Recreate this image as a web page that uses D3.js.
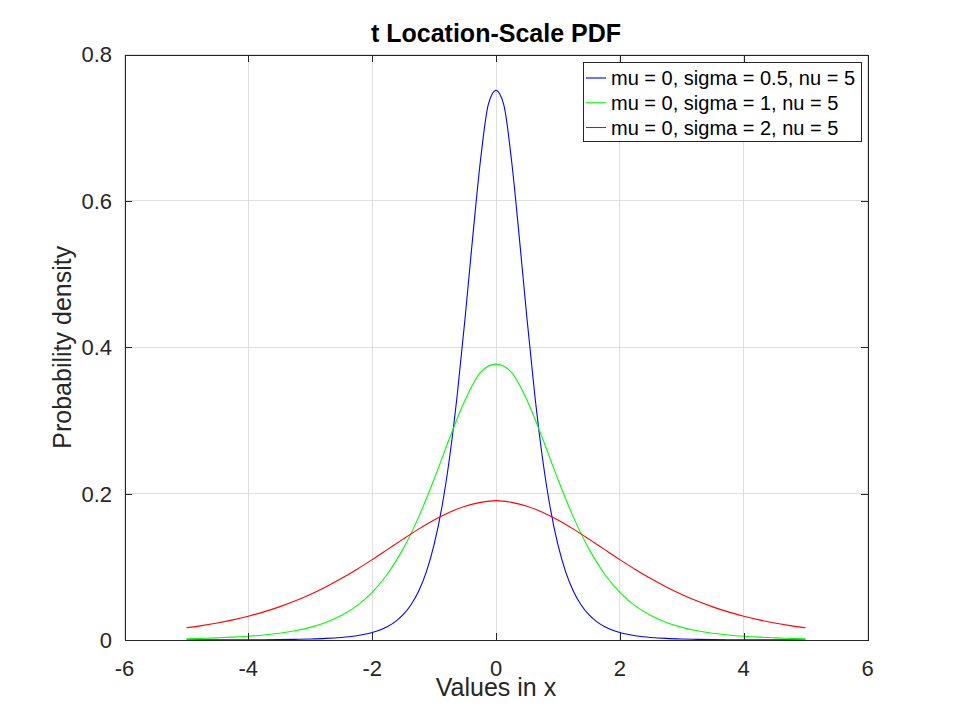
<!DOCTYPE html>
<html>
<head>
<meta charset="utf-8">
<script src="https://cdn.jsdelivr.net/npm/d3@7"></script>
<style>
  html, body { margin: 0; padding: 0; background: #ffffff; }
  svg { display: block; font-family: "Liberation Sans", Arial, Helvetica, sans-serif; }
</style>
</head>
<body>
<svg id="chart" width="960" height="720"></svg>
<script>
// ---- data ----
const xTicks = [-6, -4, -2, 0, 2, 4, 6];
const xTickLabels = ["-6", "-4", "-2", "0", "2", "4", "6"];
const yTicks = [0, 0.2, 0.4, 0.6, 0.8];
const yTickLabels = ["0", "0.2", "0.4", "0.6", "0.8"];

const seriesNames = ["mu = 0, sigma = 0.5, nu = 5", "mu = 0, sigma = 1, nu = 5", "mu = 0, sigma = 2, nu = 5"];
const seriesColors = ["#0000ff", "#00ff00", "#ff0000"];

// x positions for sigma = 0.5 (finer near the centre)
const xNarrow = [-5, -4.75, -4.5, -4.25, -4, -3.75, -3.5, -3.25, -3, -2.75, -2.5,
  -2.375, -2.25, -2.125, -2, -1.875, -1.75, -1.625, -1.5, -1.375, -1.25, -1.125, -1,
  -0.875, -0.75, -0.625, -0.5, -0.375, -0.25, -0.125, 0,
  0.125, 0.25, 0.375, 0.5, 0.625, 0.75, 0.875, 1, 1.125, 1.25, 1.375, 1.5, 1.625,
  1.75, 1.875, 2, 2.125, 2.25, 2.375,
  2.5, 2.75, 3, 3.25, 3.5, 3.75, 4, 4.25, 4.5, 4.75, 5];
const ySigma05 = [0.00008, 0.00011, 0.00015, 0.00021, 0.00029, 0.00041, 0.00060, 0.00090, 0.00138, 0.00217, 0.00352,
  0.00453, 0.00590, 0.00774, 0.01025, 0.01370, 0.01849, 0.02518, 0.03459, 0.04787, 0.06665, 0.09314, 0.13018,
  0.18108, 0.24903, 0.33579, 0.43936, 0.55140, 0.65584, 0.73144, 0.751,
  0.73144, 0.65584, 0.55140, 0.43936, 0.33579, 0.24903, 0.18108, 0.13018, 0.09314, 0.06665, 0.04787, 0.03459, 0.02518,
  0.01849, 0.01370, 0.01025, 0.00774, 0.00590, 0.00453,
  0.00352, 0.00217, 0.00138, 0.00090, 0.00060, 0.00041, 0.00029, 0.00021, 0.00015, 0.00011, 0.00008];

// x positions for sigma = 1 and sigma = 2
const xWide = [-5, -4.75, -4.5, -4.25, -4, -3.75, -3.5, -3.25, -3, -2.75, -2.5, -2.25, -2, -1.75, -1.5,
  -1.25, -1, -0.75, -0.5, -0.25, 0, 0.25, 0.5, 0.75, 1, 1.25, 1.5, 1.75, 2, 2.25, 2.5, 2.75, 3,
  3.25, 3.5, 3.75, 4, 4.25, 4.5, 4.75, 5];
const ySigma1 = [0.00176, 0.00227, 0.00295, 0.00387, 0.00512, 0.00685, 0.00924, 0.01259, 0.01729, 0.02393, 0.03333,
  0.04657, 0.06509, 0.09054, 0.12452, 0.16789, 0.21968, 0.27570, 0.32792, 0.36572, 0.377,
  0.36572, 0.32792, 0.27570, 0.21968, 0.16789, 0.12452, 0.09054, 0.06509, 0.04657, 0.03333,
  0.02393, 0.01729, 0.01259, 0.00924, 0.00685, 0.00512, 0.00387, 0.00295, 0.00227, 0.00176];
const ySigma2 = [0.01666, 0.01969, 0.02329, 0.02754, 0.03255, 0.03842, 0.04527, 0.05319, 0.06226, 0.07252, 0.08395,
  0.09645, 0.10984, 0.12379, 0.13785, 0.15146, 0.16396, 0.17465, 0.18286, 0.18804, 0.1905,
  0.18804, 0.18286, 0.17465, 0.16396, 0.15146, 0.13785, 0.12379, 0.10984, 0.09645, 0.08395,
  0.07252, 0.06226, 0.05319, 0.04527, 0.03842, 0.03255, 0.02754, 0.02329, 0.01969, 0.01666];

const series = [
  { name: seriesNames[0], color: seriesColors[0], xs: xNarrow, ys: ySigma05 },
  { name: seriesNames[1], color: seriesColors[1], xs: xWide, ys: ySigma1 },
  { name: seriesNames[2], color: seriesColors[2], xs: xWide, ys: ySigma2 }
];

// ---- layout ----
const pLeft = 124.5, pRight = 867.5, pTop = 54.5, pBottom = 640;
const axisColor = "#262626";
const gridColor = "#dedede";
const tickLen = 7;

const svg = d3.select("#chart");
const x = d3.scaleLinear().domain([-6, 6]).range([pLeft, pRight]);
const y = d3.scaleLinear().domain([0, 0.8]).range([pBottom, pTop]);

// grid
const grid = svg.append("g").attr("shape-rendering", "crispEdges");
grid.selectAll(".gx").data(xTicks).enter().append("line")
  .attr("x1", d => x(d)).attr("x2", d => x(d)).attr("y1", pTop).attr("y2", pBottom)
  .attr("stroke", gridColor).attr("stroke-width", 1);
grid.selectAll(".gy").data(yTicks).enter().append("line")
  .attr("x1", pLeft).attr("x2", pRight).attr("y1", d => y(d)).attr("y2", d => y(d))
  .attr("stroke", gridColor).attr("stroke-width", 1);

// curves
const line = d3.line().x(d => x(d[0])).y(d => y(d[1])).curve(d3.curveMonotoneX);
const plot = svg.append("g");
series.forEach(s => {
  plot.append("path")
    .datum(s.xs.map((v, i) => [v, s.ys[i]]))
    .attr("d", line)
    .attr("fill", "none")
    .attr("stroke", s.color)
    .attr("stroke-width", 1.1);
});

// axes (box with inward ticks, ticks mirrored)
const axisG = svg.append("g").attr("shape-rendering", "crispEdges");
const xAxisB = d3.axisBottom(x).tickValues(xTicks).tickSizeInner(-tickLen).tickSizeOuter(0).tickFormat("");
const xAxisT = d3.axisTop(x).tickValues(xTicks).tickSizeInner(-tickLen).tickSizeOuter(0).tickFormat("");
const yAxisL = d3.axisLeft(y).tickValues(yTicks).tickSizeInner(-tickLen).tickSizeOuter(0).tickFormat("");
const yAxisR = d3.axisRight(y).tickValues(yTicks).tickSizeInner(-tickLen).tickSizeOuter(0).tickFormat("");
[[xAxisB, `translate(0,${pBottom})`], [xAxisT, `translate(0,${pTop})`],
 [yAxisL, `translate(${pLeft},0)`], [yAxisR, `translate(${pRight},0)`]].forEach(([ax, tr]) => {
  const g = axisG.append("g").attr("transform", tr).call(ax);
  g.selectAll("path, line").attr("stroke", axisColor).attr("stroke-width", 1);
  g.selectAll("text").remove();
});

// tick labels
svg.append("g").selectAll("text").data(xTicks).enter().append("text")
  .attr("x", d => x(d)).attr("y", 676)
  .attr("text-anchor", "middle").attr("font-size", 22).attr("fill", axisColor)
  .text((d, i) => xTickLabels[i]);
svg.append("g").selectAll("text").data(yTicks).enter().append("text")
  .attr("x", 112).attr("y", d => y(d)).attr("dy", "0.36em")
  .attr("text-anchor", "end").attr("font-size", 22).attr("fill", axisColor)
  .text((d, i) => yTickLabels[i]);

// title and axis labels
svg.append("text").attr("x", (pLeft + pRight) / 2).attr("y", 42)
  .attr("text-anchor", "middle").attr("font-size", 25).attr("font-weight", "bold").attr("fill", "#000")
  .text("t Location-Scale PDF");
svg.append("text").attr("x", (pLeft + pRight) / 2).attr("y", 696)
  .attr("text-anchor", "middle").attr("font-size", 25).attr("fill", axisColor)
  .text("Values in x");
svg.append("text").attr("transform", `translate(71,${(pTop + pBottom) / 2}) rotate(-90)`)
  .attr("text-anchor", "middle").attr("font-size", 25).attr("fill", axisColor)
  .text("Probability density");

// legend
const lg = svg.append("g");
lg.append("rect").attr("x", 583).attr("y", 62.5).attr("width", 278).attr("height", 78.5)
  .attr("fill", "#fff").attr("stroke", axisColor).attr("stroke-width", 1).attr("shape-rendering", "crispEdges");
const rowY = d3.scalePoint().domain(seriesNames).range([78, 127.5]);
series.forEach(s => {
  lg.append("line").attr("x1", 586).attr("x2", 606).attr("y1", rowY(s.name)).attr("y2", rowY(s.name))
    .attr("stroke", s.color).attr("stroke-width", 1.1);
  lg.append("text").attr("x", 611).attr("y", rowY(s.name)).attr("dy", "0.36em")
    .attr("font-size", 20).attr("fill", "#000").text(s.name);
});
</script>
</body>
</html>
